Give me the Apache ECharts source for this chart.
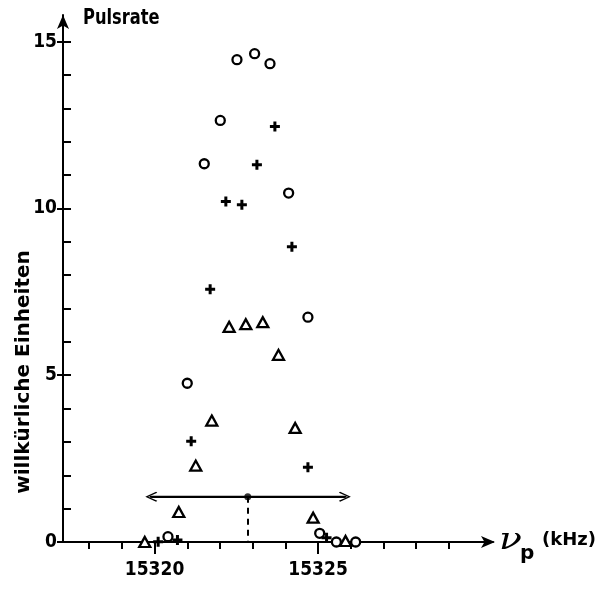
<!DOCTYPE html>
<html>
<head>
<meta charset="utf-8">
<script src="https://cdn.jsdelivr.net/npm/echarts@6/dist/echarts.min.js"></script>
<style>html,body{margin:0;padding:0;background:#fff}#c{width:603px;height:590px}</style>
</head>
<body>
<div id="c"></div>
<script>
// ---- data ----
const circlesX = [15322.52, 15323.06, 15323.53, 15322.01, 15321.52, 15324.10, 15324.69, 15321.00, 15320.41, 15325.05, 15325.56, 15326.15];
const circlesY = [14.46, 14.64, 14.34, 12.64, 11.34, 10.46, 6.74, 4.76, 0.16, 0.26, 0.00, 0.00];
const trianglesX = [15322.28, 15322.79, 15323.31, 15323.79, 15321.75, 15324.30, 15321.26, 15320.74, 15324.85, 15319.70, 15325.84];
const trianglesY = [6.45, 6.53, 6.59, 5.61, 3.64, 3.42, 2.29, 0.90, 0.73, 0.00, 0.03];
const crossesX = [15323.68, 15323.13, 15322.18, 15322.67, 15324.20, 15321.70, 15321.12, 15324.69, 15320.11, 15320.70, 15325.26];
const crossesY = [12.46, 11.31, 10.21, 10.11, 8.85, 7.58, 3.02, 2.24, 0.01, 0.06, 0.13];
// width marker: arrow from left to right at a level, with a centre point
const widthLeft = 15319.85, widthRight = 15325.87, widthLevel = 1.36, widthCentre = 15322.85;
// axes
const xMin = 15317.2, xMax = 15330.35;
const yMin = 0, yMax = 15.8;
const xMinorTicks = [15318, 15319, 15320, 15321, 15322, 15323, 15324, 15325, 15326, 15327, 15328, 15329];
const xMajorTicks = [15320, 15325];
const yMinorTicks = [1,2,3,4,5,6,7,8,9,10,11,12,13,14,15];
const yMajorTicks = [0, 5, 10, 15];
// texts
const yTitle = 'Pulsrate';
const yName = 'willkürliche Einheiten';
const xSymbol = 'ν', xSub = 'p', xUnit = '(kHz)';

const zip = (xs, ys) => xs.map((x, i) => [x, ys[i]]);
const NARROW = "'DejaVu Sans Condensed', sans-serif";
const WIDE = "'DejaVu Sans', sans-serif";
const plusPath = 'path://M3.5,0 H6.5 V3.5 H10 V6.5 H6.5 V10 H3.5 V6.5 H0 V3.5 H3.5 Z';
const chevron = 'path://M5,0 L10,9 L9,10 L5,2.4 L1,10 L0,9 Z';

const chart = echarts.init(document.getElementById('c'));
chart.setOption({
  animation: false,
  backgroundColor: '#fff',
  grid: { left: 63, right: 110, top: 15, bottom: 48, containLabel: false },
  xAxis: [
    {
      type: 'value', min: xMin, max: xMax, position: 'bottom',
      splitLine: { show: false },
      axisLine: { show: true, onZero: false, symbol: ['none', 'arrow'], symbolSize: [9, 14], symbolOffset: [0, 2], lineStyle: { color: '#000', width: 2 } },
      axisTick: { show: true, inside: false, length: 7, customValues: xMinorTicks, lineStyle: { color: '#000', width: 2 } },
      axisLabel: { show: false }
    },
    {
      type: 'value', min: xMin, max: xMax, position: 'bottom',
      splitLine: { show: false },
      axisLine: { show: false, onZero: false },
      axisTick: { show: true, inside: false, length: 12, customValues: xMajorTicks, lineStyle: { color: '#000', width: 2 } },
      axisLabel: { show: true, customValues: xMajorTicks, margin: 19, fontFamily: NARROW, fontSize: 19, fontWeight: 'bold', color: '#000', formatter: v => String(v) }
    }
  ],
  yAxis: [
    {
      type: 'value', min: yMin, max: yMax,
      splitLine: { show: false },
      axisLine: { show: true, onZero: false, symbol: ['none', 'arrow'], symbolSize: [9, 14], symbolOffset: [0, 0], lineStyle: { color: '#000', width: 2 } },
      axisTick: { show: true, inside: true, length: 8, customValues: yMinorTicks, lineStyle: { color: '#000', width: 2 } },
      axisLabel: { show: false }
    },
    {
      type: 'value', min: yMin, max: yMax, position: 'left',
      splitLine: { show: false },
      axisLine: { show: false, onZero: false },
      axisTick: { show: true, inside: false, length: 6, customValues: yMajorTicks, lineStyle: { color: '#000', width: 2 } },
      axisLabel: { show: true, customValues: yMajorTicks, margin: 6, fontFamily: NARROW, fontSize: 19, fontWeight: 'bold', color: '#000' }
    }
  ],
  graphic: [
    { type: 'text', x: 83, y: 7, scaleX: 0.74, style: { text: yTitle, font: "bold 22px " + WIDE, fill: '#000' } },
    { type: 'text', x: 24, y: 372, rotation: Math.PI / 2, style: { text: yName, font: "bold 20px " + WIDE, fill: '#000', align: 'center', verticalAlign: 'middle' } },
    { type: 'text', x: 499, y: 541, scaleX: 1.3, style: { text: xSymbol, font: "italic 29px 'DejaVu Serif', serif", fill: '#000', verticalAlign: 'middle' } },
    { type: 'text', x: 520, y: 554, style: { text: xSub, font: "bold 20px " + WIDE, fill: '#000', verticalAlign: 'middle' } },
    { type: 'text', x: 542, y: 540, style: { text: xUnit, font: "bold 18px " + WIDE, fill: '#000', verticalAlign: 'middle' } }
  ],
  series: [
    {
      type: 'scatter', name: 'circles', data: zip(circlesX, circlesY),
      symbol: 'circle', symbolSize: 9,
      itemStyle: { color: '#fff', borderColor: '#000', borderWidth: 2.3, opacity: 1 }, z: 5
    },
    {
      type: 'scatter', name: 'triangles', data: zip(trianglesX, trianglesY),
      symbol: 'triangle', symbolSize: [11, 10],
      itemStyle: { color: '#fff', borderColor: '#000', borderWidth: 2.3, opacity: 1 }, z: 5
    },
    {
      type: 'scatter', name: 'crosses', data: zip(crossesX, crossesY),
      symbol: plusPath, symbolSize: 10,
      itemStyle: { color: '#000', opacity: 1 }, z: 5
    },
    {
      type: 'line', name: 'width', data: [[widthLeft, widthLevel], [widthRight, widthLevel]],
      symbol: 'none', lineStyle: { color: '#000', width: 2 }, z: 4,
      markLine: {
        silent: true, animation: false, label: { show: false },
        data: [
          [{ coord: [widthLeft + 0.05, widthLevel], symbol: chevron, symbolSize: [10, 12] }, { coord: [widthRight - 0.05, widthLevel], symbol: chevron, symbolSize: [10, 12] }],
          [{ coord: [widthCentre, widthLevel], symbol: 'none', lineStyle: { type: [6, 5], width: 2, color: '#000' } }, { coord: [widthCentre, 0], symbol: 'none' }]
        ],
        lineStyle: { color: '#000', width: 2, type: 'solid' }
      }
    },
    {
      type: 'scatter', name: 'centre', data: [[widthCentre, widthLevel]],
      symbol: 'circle', symbolSize: 7, itemStyle: { color: '#000' }, z: 6
    }
  ]
});
</script>
</body>
</html>
